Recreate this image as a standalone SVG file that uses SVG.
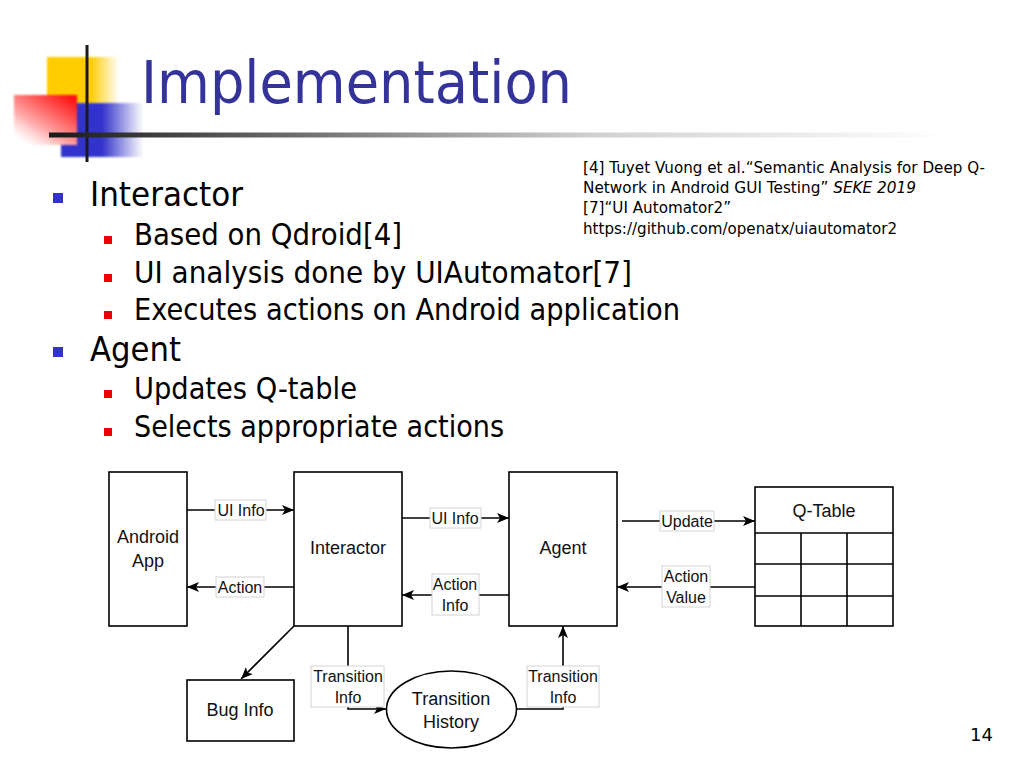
<svg xmlns="http://www.w3.org/2000/svg" width="1024" height="768" viewBox="0 0 1024 768">
<defs>
<style>
.title{font-family:"DejaVu Sans",sans-serif;font-size:59px;fill:#333399}
.b1{font-family:"DejaVu Sans",sans-serif;font-size:34px;fill:#000}
.b2{font-family:"DejaVu Sans",sans-serif;font-size:30px;fill:#000}
.ref{font-family:"DejaVu Sans",sans-serif;font-size:15px;fill:#000}
.box{fill:#fff;stroke:#000;stroke-width:1.6}
.nt{font-family:"Liberation Sans",Arial,sans-serif;font-size:18px;fill:#111;text-anchor:middle}
.lt{font-family:"Liberation Sans",Arial,sans-serif;font-size:16px;fill:#111;text-anchor:middle}
.lb{fill:#fff;stroke:#d4d4d4;stroke-width:1}
.cn{fill:none;stroke:#000;stroke-width:1.6}
.pg{font-family:"DejaVu Sans",sans-serif;font-size:18px;fill:#000}
</style>
<marker id="arr" viewBox="0 0 12 10" refX="12" refY="5" markerWidth="12" markerHeight="10" orient="auto" markerUnits="userSpaceOnUse">
<path d="M0,0 L12,5 L0,10 L3,5 z" fill="#000"/>
</marker>
<filter id="soft" x="-10%" y="-10%" width="120%" height="120%"><feGaussianBlur stdDeviation="0.8"/></filter>
<linearGradient id="gY" x1="0" y1="0" x2="1" y2="0">
<stop offset="0" stop-color="#ffcc00"/><stop offset="0.6" stop-color="#ffcc00"/><stop offset="1" stop-color="#ffcc00" stop-opacity="0"/>
</linearGradient>
<linearGradient id="gB" x1="0" y1="0" x2="1" y2="0">
<stop offset="0" stop-color="#3333cc"/><stop offset="0.5" stop-color="#3333cc"/><stop offset="1" stop-color="#3333cc" stop-opacity="0"/>
</linearGradient>
<linearGradient id="gR" x1="1" y1="0" x2="0.2" y2="1">
<stop offset="0" stop-color="#ff0000"/><stop offset="0.35" stop-color="#ff5555"/><stop offset="0.7" stop-color="#ffb0b0"/><stop offset="1" stop-color="#ffffff" stop-opacity="0.6"/>
</linearGradient>
<linearGradient id="gL" gradientUnits="userSpaceOnUse" x1="50" y1="0" x2="950" y2="0">
<stop offset="0" stop-color="#1a1a1a"/><stop offset="0.25" stop-color="#666"/><stop offset="0.6" stop-color="#d0d0d0"/><stop offset="1" stop-color="#fff"/>
</linearGradient>
</defs>
<rect width="1024" height="768" fill="#fff"/>

<g id="logo">
<rect x="47" y="57" width="72" height="47" fill="url(#gY)" filter="url(#soft)"/>
<rect x="61" y="103" width="82" height="54" fill="url(#gB)" filter="url(#soft)"/>
<rect x="14" y="95" width="63" height="50" fill="url(#gR)" filter="url(#soft)"/>
<line x1="87" y1="45" x2="87" y2="162" stroke="#1a1a1a" stroke-width="3"/>
<line x1="49" y1="135" x2="950" y2="135" stroke="url(#gL)" stroke-width="5"/>
</g>
<text class="title" x="141" y="103" textLength="431" lengthAdjust="spacingAndGlyphs">Implementation</text>

<g id="bullets">
<rect x="53" y="193" width="10" height="10" fill="#3333cc"/>
<text class="b1" x="90" y="206" textLength="153" lengthAdjust="spacingAndGlyphs">Interactor</text>
<rect x="104" y="236" width="8" height="8" fill="#ee0000"/>
<text class="b2" x="134" y="245" textLength="268" lengthAdjust="spacingAndGlyphs">Based on Qdroid[4]</text>
<rect x="104" y="274" width="8" height="8" fill="#ee0000"/>
<text class="b2" x="134" y="283" textLength="498" lengthAdjust="spacingAndGlyphs">UI analysis done by UIAutomator[7]</text>
<rect x="104" y="311" width="8" height="8" fill="#ee0000"/>
<text class="b2" x="134" y="320" textLength="546" lengthAdjust="spacingAndGlyphs">Executes actions on Android application</text>
<rect x="53" y="347" width="10" height="10" fill="#3333cc"/>
<text class="b1" x="90" y="361" textLength="91" lengthAdjust="spacingAndGlyphs">Agent</text>
<rect x="104" y="390" width="8" height="8" fill="#ee0000"/>
<text class="b2" x="134" y="399" textLength="223" lengthAdjust="spacingAndGlyphs">Updates Q-table</text>
<rect x="104" y="428" width="8" height="8" fill="#ee0000"/>
<text class="b2" x="134" y="437" textLength="370" lengthAdjust="spacingAndGlyphs">Selects appropriate actions</text>
</g>

<g id="references">
<text class="ref" x="583" y="173" textLength="402" lengthAdjust="spacingAndGlyphs">[4] Tuyet Vuong et al.“Semantic Analysis for Deep Q-</text>
<text class="ref" x="583" y="193" textLength="333" lengthAdjust="spacingAndGlyphs">Network in Android GUI Testing” <tspan font-style="italic">SEKE 2019</tspan></text>
<text class="ref" x="583" y="213" textLength="148" lengthAdjust="spacingAndGlyphs">[7]“UI Automator2”</text>
<text class="ref" x="583" y="234" textLength="314" lengthAdjust="spacingAndGlyphs">https://github.com/openatx/uiautomator2</text>
</g>

<g id="connectors">
<line class="cn" x1="187" y1="510" x2="294" y2="510" marker-end="url(#arr)"/>
<line class="cn" x1="294" y1="587" x2="187" y2="587" marker-end="url(#arr)"/>
<line class="cn" x1="402" y1="518" x2="509" y2="518" marker-end="url(#arr)"/>
<line class="cn" x1="509" y1="595" x2="402" y2="595" marker-end="url(#arr)"/>
<line class="cn" x1="622" y1="521" x2="755" y2="521" marker-end="url(#arr)"/>
<line class="cn" x1="755" y1="587" x2="617" y2="587" marker-end="url(#arr)"/>
<line class="cn" x1="294" y1="626" x2="241" y2="679" marker-end="url(#arr)"/>
<polyline class="cn" points="348,626 348,709 386,709" marker-end="url(#arr)"/>
<polyline class="cn" points="517,709 563,709 563,626" marker-end="url(#arr)"/>

<rect class="lb" x="215" y="500" width="51" height="20"/>
<text class="lt" x="241" y="516">UI Info</text>
<rect class="lb" x="216" y="577" width="48" height="20"/>
<text class="lt" x="240" y="593">Action</text>
<rect class="lb" x="430" y="508" width="51" height="20"/>
<text class="lt" x="455" y="524">UI Info</text>
<rect class="lb" x="432" y="574" width="47" height="41"/>
<text class="lt" x="455" y="590">Action</text>
<text class="lt" x="455" y="611">Info</text>
<rect class="lb" x="660" y="511" width="54" height="20"/>
<text class="lt" x="687" y="527">Update</text>
<rect class="lb" x="662" y="566" width="48" height="41"/>
<text class="lt" x="686" y="582">Action</text>
<text class="lt" x="686" y="603">Value</text>
<rect class="lb" x="311" y="666" width="73" height="41"/>
<text class="lt" x="348" y="682">Transition</text>
<text class="lt" x="348" y="703">Info</text>
<rect class="lb" x="527" y="666" width="72" height="41"/>
<text class="lt" x="563" y="682">Transition</text>
<text class="lt" x="563" y="703">Info</text>
</g>

<g id="android-app">
<rect class="box" x="109" y="472" width="78" height="154"/>
<text class="nt" x="148" y="543">Android</text>
<text class="nt" x="148" y="567">App</text>
</g>
<g id="interactor">
<rect class="box" x="294" y="472" width="108" height="154"/>
<text class="nt" x="348" y="554">Interactor</text>
</g>
<g id="agent">
<rect class="box" x="509" y="472" width="108" height="154"/>
<text class="nt" x="563" y="554">Agent</text>
</g>
<g id="q-table">
<rect class="box" x="755" y="487" width="138" height="139"/>
<line class="cn" x1="755" y1="533" x2="893" y2="533"/>
<line class="cn" x1="755" y1="564" x2="893" y2="564"/>
<line class="cn" x1="755" y1="596" x2="893" y2="596"/>
<line class="cn" x1="801" y1="533" x2="801" y2="626"/>
<line class="cn" x1="847" y1="533" x2="847" y2="626"/>
<text class="nt" x="824" y="517">Q-Table</text>
</g>
<g id="bug-info">
<rect class="box" x="187" y="680" width="107" height="61"/>
<text class="nt" x="240" y="716">Bug Info</text>
</g>
<g id="transition-history">
<ellipse class="box" cx="451.5" cy="709.5" rx="65" ry="38.5"/>
<text class="nt" x="451" y="705">Transition</text>
<text class="nt" x="451" y="728">History</text>
</g>

<text class="pg" x="970" y="741">14</text>
</svg>
